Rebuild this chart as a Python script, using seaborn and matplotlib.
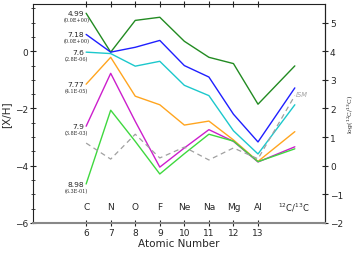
import matplotlib
matplotlib.use("Agg")
import matplotlib.pyplot as plt
import seaborn as sns
import pandas as pd
from matplotlib.ticker import MultipleLocator, FixedLocator

sns.set_style("ticks")
plt.rcParams['font.family'] = ['DejaVu Sans']

# ---- data ----
atomic_numbers = [6, 7, 8, 9, 10, 11, 12, 13]
symbols = ["C", "N", "O", "F", "Ne", "Na", "Mg", "Al"]
ratio_x = 14.5

labels_main = ["4.99", "7.18", "7.6", "7.77", "7.9", "8.98"]
labels_sub = ["(0.0E+00)", "(0.0E+00)", "(2.8E-06)", "(4.1E-05)", "(3.8E-03)", "(6.3E-01)"]
colors = ["#228b22", "#1f1fff", "#1cc8cc", "#ffa51f", "#cc1fcc", "#3fd83f"]

xh_499 = [1.33, -0.03, 1.08, 1.19, 0.35, -0.21, -0.43, -1.85]
xh_718 = [0.59, -0.03, 0.14, 0.38, -0.50, -0.90, -2.20, -3.17]
xh_760 = [-0.03, -0.08, -0.52, -0.35, -1.19, -1.55, -2.78, -3.59]
xh_777 = [-1.15, -0.21, -1.57, -1.87, -2.58, -2.44, -3.10, -3.85]
xh_790 = [-2.62, -0.77, -2.45, -4.05, -3.38, -2.74, -3.15, -3.87]
xh_898 = [-4.64, -2.06, -3.15, -4.29, -3.58, -2.90, -3.14, -3.86]
xh_ism = [-3.21, -3.77, -2.90, -3.73, -3.35, -3.80, -3.38, -3.76]

ratio_vals = [3.49, 2.72, 2.13, 1.19, 0.66, 0.59]   # log(12C/13C), right axis
ratio_ism = 2.45
right_ticks = [-2, -1, 0, 1, 2, 3, 4, 5]

series = [xh_499, xh_718, xh_760, xh_777, xh_790, xh_898]

OFFSET = 4.0  # right axis = left axis + 4

fig = plt.figure(figsize=(3.56, 2.55), dpi=100)
ax = fig.add_axes([0.093, 0.122, 0.82, 0.858])

xs = atomic_numbers + [ratio_x]
for vals, rv, col in zip(series, ratio_vals, colors):
    df = pd.DataFrame({"x": xs, "y": vals + [rv - OFFSET]})
    sns.lineplot(data=df, x="x", y="y", color=col, linewidth=1.0, sort=False, ax=ax)

df_ism = pd.DataFrame({"x": xs, "y": xh_ism + [ratio_ism - OFFSET]})
sns.lineplot(data=df_ism, x="x", y="y", color="#a0a0a0", linewidth=0.9,
             linestyle=(0, (4, 3)), sort=False, ax=ax)

ax.set_xlim(3.84, 15.73)
ax.set_ylim(-6, 1.65)

# labels next to start of lines
for vals, m, s in zip(series, labels_main, labels_sub):
    y0 = vals[0]
    ax.text(5.93, y0, m, ha="right", va="center", fontsize=5.4)
    ax.text(5.6, y0 - 0.23, s, ha="center", va="center", fontsize=3.5,
            family="DejaVu Serif")

for xv, sym in zip(atomic_numbers, symbols):
    ax.text(xv, -5.44, sym, ha="center", va="center", fontsize=6.5)
ax.text(14.45, -5.44, r"$^{12}$C/$^{13}$C", ha="center", va="center", fontsize=6)
ax.text(14.55, -1.48, "ISM", ha="left", va="center", fontsize=4.8, color="#a0a0a0",
        style="italic")

ax.set_xticks(atomic_numbers)
ax.set_xticklabels([str(a) for a in atomic_numbers])
ax.yaxis.set_major_locator(FixedLocator([-6, -4, -2, 0]))
ax.yaxis.set_minor_locator(MultipleLocator(0.5))
ax.tick_params(axis="x", which="both", direction="inout", top=True, length=4,
               width=0.8, labelsize=6.5, pad=1.5)
ax.tick_params(axis="y", which="major", direction="inout", length=5, width=0.8,
               labelsize=6.5, pad=1)
ax.tick_params(axis="y", which="minor", direction="inout", length=3, width=0.6)
ax.tick_params(axis="y", which="both", right=False)

ax.set_xlabel("Atomic Number", fontsize=7.5, labelpad=1)
ax.set_ylabel("[X/H]", fontsize=7.5, labelpad=3)

for sp in ["top", "left", "right"]:
    ax.spines[sp].set_linewidth(0.8)
    ax.spines[sp].set_color("#222222")
ax.spines["bottom"].set_linewidth(1.5)
ax.spines["bottom"].set_color("#888888")

sec = ax.secondary_yaxis("right", functions=(lambda y: y + OFFSET, lambda y: y - OFFSET))
sec.yaxis.set_major_locator(FixedLocator(right_ticks))
sec.tick_params(direction="inout", length=5, width=0.8, labelsize=6.5, pad=1)
sec.spines["right"].set_linewidth(0.8)
sec.spines["right"].set_color("#222222")
sec.set_ylabel(r"log($^{12}$C/$^{13}$C)", fontsize=4.5, family="DejaVu Serif",
               labelpad=2)

fig.savefig("out.png", dpi=100)
